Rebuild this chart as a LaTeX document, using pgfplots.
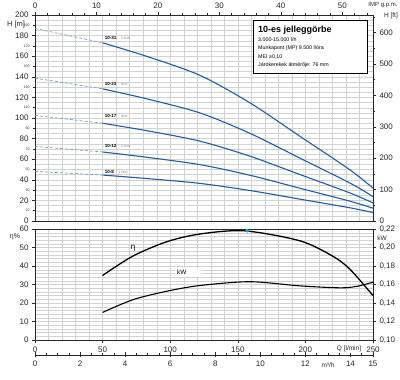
\documentclass[border=0pt]{standalone}
\usepackage{pgfplots}
\pgfplotsset{compat=1.18}
\usepackage{fontspec}
\setmainfont{Liberation Sans}
\definecolor{cblue}{RGB}{32,92,165}
\definecolor{cdash}{RGB}{95,145,205}
\definecolor{cdot}{RGB}{40,165,225}
\definecolor{cgrid}{RGB}{210,210,210}
\definecolor{ctext}{RGB}{40,40,40}
\pgfplotsset{
 base/.style={scale only axis, anchor=south west, xmin=0, xmax=250,
   /pgf/number format/assume math mode=true,
   tick label style={font=\fontsize{8}{9}\selectfont, text=ctext},
   axis line style={ctext, line width=0.6pt},
   tick style={ctext, line width=0.5pt},
   major tick length=3pt, minor tick length=2pt, tick align=outside},
 gridax/.style={scale only axis, anchor=south west, xmin=0, xmax=250,
   grid=major, major grid style={cgrid, line width=0.35pt},
   xticklabels={}, yticklabels={}, major tick length=0pt,
   axis line style={draw=none}},
}
\begin{document}
\begin{tikzpicture}
% ---------- top grid ----------
\begin{axis}[gridax, at={(35pt,159pt)}, width=338pt, height=206pt, ymin=0, ymax=200,
  xtick={0,10,...,250}, ytick={0,5,...,200}]
\addplot[draw=none] coordinates {(0,0)};
\end{axis}
% ---------- top main (H m) ----------
\begin{axis}[base, at={(35pt,159pt)}, width=338pt, height=206pt, ymin=0, ymax=200,
  xtick={0,45.4609,90.9218,136.3827,181.8436,227.3045}, xticklabels={0,10,20,30,40,50},
  minor xtick={9.09,18.18,27.28,36.37,54.55,63.65,72.74,81.83,100.01,109.11,118.20,127.29,145.47,154.57,163.66,172.75,190.93,200.03,209.12,218.21,236.39,245.49},
  xtick pos=right, xticklabel pos=right,
  ytick={0,20,...,200}, ytick pos=left, yticklabel pos=left,
  extra y ticks={10,30,...,190},
  extra y tick style={tick label style={font=\fontsize{3.5}{4}\selectfont}, major tick length=2pt},
  clip=false]
\addplot[cdash, densely dashed, line width=0.6pt] coordinates {(0,186.9)(50,173.0)};
\addplot[cblue, line width=1.1pt, smooth] coordinates {(50,173.0)(83,159.7)(122,141.4)(159,114.7)(196,82.2)(233,49.6)(250,31.9)};
\addplot[cdash, densely dashed, line width=0.6pt] coordinates {(0,138.7)(50,128.3)};
\addplot[cblue, line width=1.1pt, smooth] coordinates {(50,128.3)(83,118.5)(122,104.9)(159,85.1)(196,61.0)(233,36.8)(250,23.7)};
\addplot[cdash, densely dashed, line width=0.6pt] coordinates {(0,102.5)(50,94.9)};
\addplot[cblue, line width=1.1pt, smooth] coordinates {(50,94.9)(83,87.6)(122,77.5)(159,62.9)(196,45.1)(233,27.2)(250,17.5)};
\addplot[cdash, densely dashed, line width=0.6pt] coordinates {(0,72.4)(50,67.0)};
\addplot[cblue, line width=1.1pt, smooth] coordinates {(50,67.0)(83,61.8)(122,54.7)(159,44.4)(196,31.8)(233,19.2)(250,12.4)};
\addplot[cdash, densely dashed, line width=0.6pt] coordinates {(0,48.2)(50,44.6)};
\addplot[cblue, line width=1.1pt, smooth] coordinates {(50,44.6)(83,41.2)(122,36.5)(159,29.6)(196,21.2)(233,12.8)(250,8.2)};
\node[anchor=west, inner sep=0pt] at (axis cs:51.5,178) {\fontsize{4.5}{5}\selectfont\bfseries 10-31 {\mdseries\fontsize{3.3}{4}\selectfont\color{gray}$\cdot$ 5,5kW}};
\node[anchor=west, inner sep=0pt] at (axis cs:51.5,133.5) {\fontsize{4.5}{5}\selectfont\bfseries 10-23 {\mdseries\fontsize{3.3}{4}\selectfont\color{gray}$\cdot$ 4kW}};
\node[anchor=west, inner sep=0pt] at (axis cs:51.5,101.5) {\fontsize{4.5}{5}\selectfont\bfseries 10-17 {\mdseries\fontsize{3.3}{4}\selectfont\color{gray}$\cdot$ 3kW}};
\node[anchor=west, inner sep=0pt] at (axis cs:51.5,72.5) {\fontsize{4.5}{5}\selectfont\bfseries 10-12 {\mdseries\fontsize{3.3}{4}\selectfont\color{gray}$\cdot$ 2,2kW}};
\node[anchor=west, inner sep=0pt] at (axis cs:51.5,47.5) {\fontsize{4.5}{5}\selectfont\bfseries 10-8 {\mdseries\fontsize{3.3}{4}\selectfont\color{gray}$\cdot$ 1,5kW}};
\end{axis}
% ---------- top right (H ft) ----------
\begin{axis}[base, at={(35pt,159pt)}, width=338pt, height=206pt, ymin=0, ymax=656.17,
  axis y line*=right, hide x axis,
  ytick={0,100,...,600}, minor ytick={50,150,...,650}]
\addplot[draw=none] coordinates {(0,0)};
\end{axis}
% ---------- bottom grid ----------
\begin{axis}[gridax, at={(35pt,40pt)}, width=338pt, height=111pt, ymin=0, ymax=60,
  xtick={0,10,...,250}, ytick={0,2,...,60}]
\addplot[draw=none] coordinates {(0,0)};
\end{axis}
% ---------- bottom main (eta) ----------
\begin{axis}[base, at={(35pt,40pt)}, width=338pt, height=111pt, ymin=0, ymax=60,
  xtick={0,50,...,250}, xtick pos=left, xticklabel pos=left,
  ytick={0,10,...,60}, ytick pos=left, yticklabel pos=left, clip=false]
\addplot[black, line width=1.3pt, smooth] coordinates {(50,34.9)(72.5,45.4)(97.4,53.1)(122,57.3)(155,59)(196,53.6)(220,45.4)(233,38.2)(250,24)};
\addplot[only marks, mark=*, mark size=1.8pt, cdot] coordinates {(157,59.1)};
\node[font=\fontsize{8}{9}\selectfont] at (axis cs:72.5,49.5) {η};
\node[font=\fontsize{6.5}{7}\selectfont, fill=white, inner sep=2pt, minimum width=26pt, align=left] at (axis cs:113,36.5) {kW\hspace{12pt}};
\end{axis}
% ---------- bottom right (kW) ----------
\begin{axis}[base, at={(35pt,40pt)}, width=338pt, height=111pt, ymin=0.10, ymax=0.22,
  axis y line*=right, hide x axis,
  ytick={0.10,0.12,0.14,0.16,0.18,0.20,0.22},
  yticklabel style={/pgf/number format/.cd, use comma, fixed, fixed zerofill, precision=2}]
\addplot[black, line width=1.1pt, smooth] coordinates {(50,0.1298)(72.5,0.1436)(97.4,0.1527)(122,0.1589)(159,0.163)(196,0.1585)(225.6,0.1564)(238,0.158)(250,0.1625)};
\end{axis}
% ---------- m3/h axis ----------
\begin{axis}[base, at={(35pt,25pt)}, width=338pt, height=1pt, xmin=0, xmax=15, ymin=0, ymax=1,
  axis x line*=bottom, axis y line=none, tick align=center,
  xtick={0,2,4,6,8,10,12,14,15}, minor xtick={0,0.5,...,15},
  major tick length=5pt, minor tick length=3pt]
\addplot[draw=none] coordinates {(0,0)};
\end{axis}
% ---------- texts ----------
\node[font=\fontsize{7.5}{8}\selectfont, text=ctext] at (16pt,355pt) {H [m]};
\node[font=\fontsize{6.5}{7}\selectfont, text=ctext] at (391pt,364pt) {H [ft]};
\node[font=\fontsize{6}{7}\selectfont, text=ctext] at (383pt,375pt) {IMP g.p.m.};
\node[font=\fontsize{7}{8}\selectfont, text=ctext] at (15pt,143pt) {η\%};
\node[font=\fontsize{6.5}{7}\selectfont, text=ctext] at (382pt,142pt) {kW};
\node[font=\fontsize{6.5}{7}\selectfont, text=ctext, fill=white, inner sep=1pt] at (349pt,31.5pt) {Q [l/min]};
\node[font=\fontsize{6.5}{7}\selectfont, text=ctext, fill=white, inner sep=1pt] at (328pt,15pt) {m³/h};
% legend box
\draw[line width=0.8pt, fill=white] (253pt,307pt) rectangle (367pt,360pt);
\node[anchor=base west, font=\fontsize{9}{10}\selectfont\bfseries, inner sep=0pt] at (258pt,347pt) {10-es jelleggörbe};
\node[anchor=base west, font=\fontsize{5.3}{6}\selectfont, inner sep=0pt] at (258pt,338.5pt) {3.000-15.000 l/h};
\node[anchor=base west, font=\fontsize{5.3}{6}\selectfont, inner sep=0pt] at (258pt,330pt) {Munkapont (MP) 9.500 l/óra};
\node[anchor=base west, font=\fontsize{5.3}{6}\selectfont, inner sep=0pt] at (258pt,321.5pt) {MEI ≥0,10};
\node[anchor=base west, font=\fontsize{5.3}{6}\selectfont, inner sep=0pt] at (258pt,313pt) {Járókerekek átmérője: 76 mm};
\pgfresetboundingbox
\path (0,0) rectangle (400pt,380pt);
\end{tikzpicture}
\end{document}
